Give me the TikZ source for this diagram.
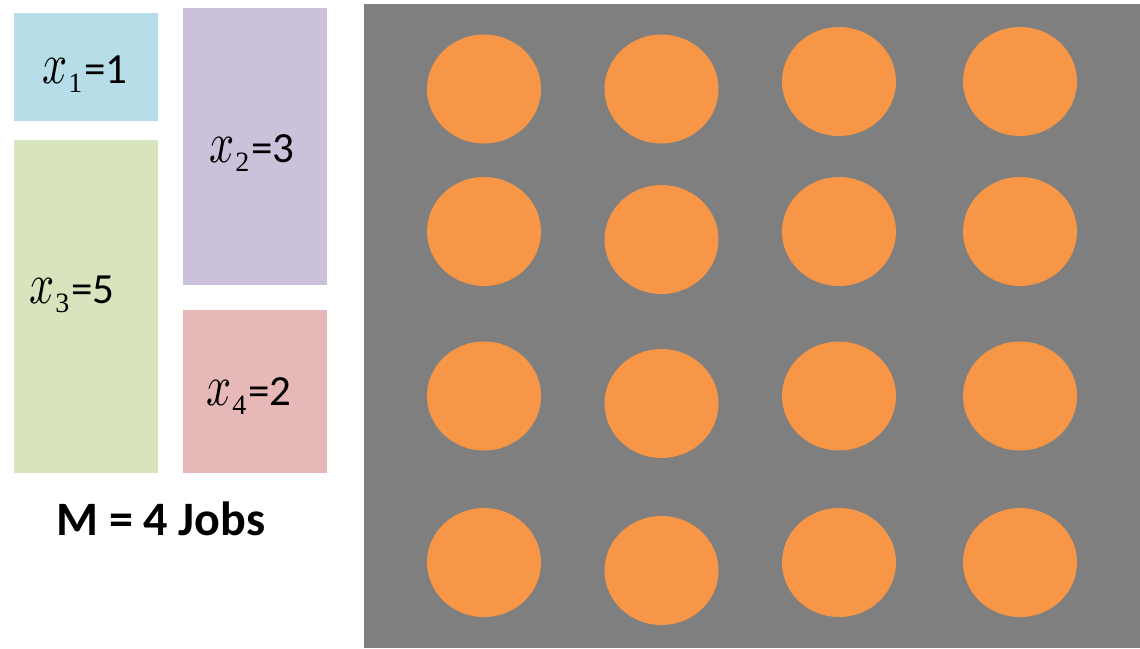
\documentclass[tikz,border=0pt]{standalone}
\usepackage{fontspec}
\setmainfont{Carlito}
\newfontfamily\xfont{Liberation Serif}
\usetikzlibrary{shapes.geometric}
\definecolor{jobblue}{HTML}{B7DDE8}
\definecolor{jobpurple}{HTML}{CCC1DA}
\definecolor{jobgreen}{HTML}{D7E4BD}
\definecolor{jobred}{HTML}{E6B9B8}
\definecolor{chipgray}{HTML}{7F7F7F}
\definecolor{coreorange}{HTML}{F79646}
\newcommand\jx[1]{\scalebox{4.4}[5.8]{\normalsize$x$}\kern1pt\raisebox{-9pt}{\xfont\fontsize{28}{30}\selectfont #1}\kern2pt}
\begin{document}
\begin{tikzpicture}[x=1pt,y=-1pt,
  jobbox/.style={draw=none, inner sep=0pt, minimum width=144pt},
  lbl/.style={inner sep=0pt, anchor=base west, font=\fontsize{43}{48}\selectfont},
  core/.style={ellipse, fill=coreorange, inner sep=0pt, minimum width=114pt, minimum height=109pt}]
\useasboundingbox (0,0) rectangle (1140,648);
% jobs
\node[jobbox, fill=jobblue,   minimum height=108pt] (b1) at (86,67) {};
\node[jobbox, fill=jobpurple, minimum height=277pt] (b2) at (255,146.5) {};
\node[jobbox, fill=jobgreen,  minimum height=333pt] (b3) at (86,306.5) {};
\node[jobbox, fill=jobred,    minimum height=163pt] (b4) at (255,391.5) {};
\node[lbl] (l1) at (42,83) {\jx{1}=1};
\node[lbl] (l2) at (209,162) {\jx{2}=3};
\node[lbl] (l3) at (29,303) {\jx{3}=5};
\node[lbl] (l4) at (206,405) {\jx{4}=2};
\node[inner sep=0pt, anchor=base west, font=\bfseries\fontsize{48}{56}\selectfont] (title) at (56,535) {M = 4 Jobs};
% chip
\node[fill=chipgray, inner sep=0pt, minimum width=776pt, minimum height=644pt] (chip) at (752,326) {};
\node[core] (c11) at (484,89) {};
\node[core] (c21) at (484,231.5) {};
\node[core] (c31) at (484,396) {};
\node[core] (c41) at (484,562.5) {};
\node[core] (c12) at (661.5,89) {};
\node[core] (c22) at (661.5,239.5) {};
\node[core] (c32) at (661.5,403.5) {};
\node[core] (c42) at (661.5,570.5) {};
\node[core] (c13) at (839,81.5) {};
\node[core] (c23) at (839,231.5) {};
\node[core] (c33) at (839,396) {};
\node[core] (c43) at (839,562.5) {};
\node[core] (c14) at (1020,81.5) {};
\node[core] (c24) at (1020,231.5) {};
\node[core] (c34) at (1020,396) {};
\node[core] (c44) at (1020,562.5) {};
\end{tikzpicture}
\end{document}
